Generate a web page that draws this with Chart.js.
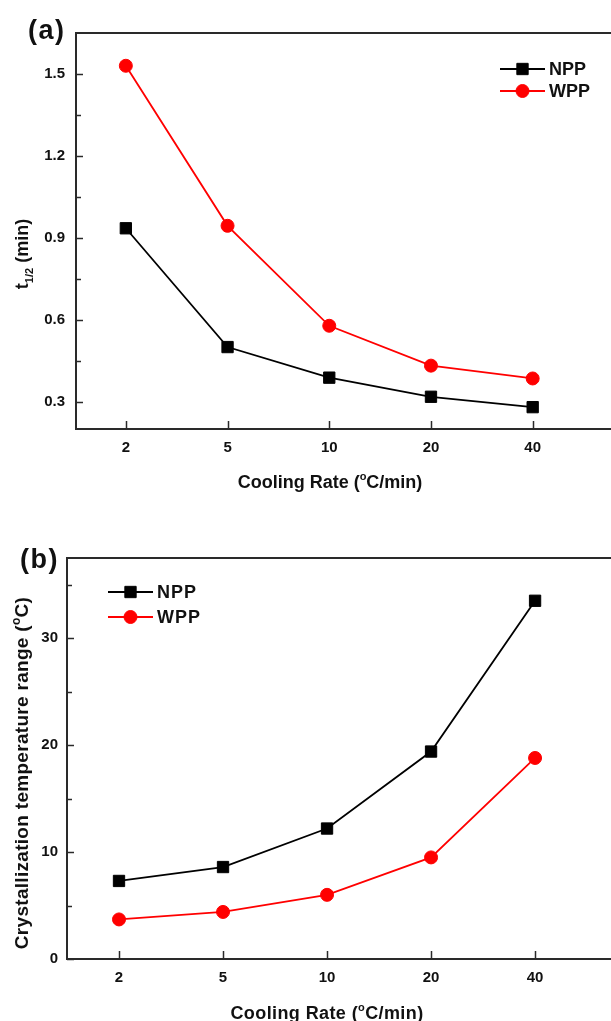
<!DOCTYPE html>
<html>
<head>
<meta charset="utf-8">
<script src="https://cdn.jsdelivr.net/npm/chart.js@4.4.0/dist/chart.umd.min.js"></script>
<style>
  body { margin: 0; background: #fff; overflow: hidden; }
  canvas { display: block; }
</style>
</head>
<body>
<canvas id="chartA" width="611" height="500"></canvas>
<canvas id="chartB" width="611" height="521"></canvas>
<script>
// cooling rates (°C/min), shared by both panels
var coolingRates = ['2', '5', '10', '20', '40'];

// (a) crystallization half-time t1/2, min
var halfTimeNPP = [0.935, 0.50, 0.388, 0.318, 0.28];
var halfTimeWPP = [1.53, 0.944, 0.578, 0.432, 0.385];
var halfTimeTicks = [0.3, 0.6, 0.9, 1.2, 1.5];
var halfTimeMinor = [0.45, 0.75, 1.05, 1.35];

// (b) crystallization temperature range, °C
var rangeNPP = [7.3, 8.6, 12.2, 19.4, 33.5];
var rangeWPP = [3.7, 4.4, 6.0, 9.5, 18.8];
var rangeTicks = [0, 10, 20, 30];
var rangeMinor = [5, 15, 25, 35];

var FONT = '"Liberation Sans", Arial, Helvetica, sans-serif';
var AXIS = '#2a2a2a';

function points(values) {
    return values.map(function (v, i) { return { x: i, y: v }; });
}

function series(label, values, color, style, radius) {
    return {
        label: label,
        data: points(values),
        borderColor: color,
        backgroundColor: color,
        borderWidth: 1.8,
        pointStyle: style,
        pointRadius: radius,
        pointBorderWidth: 1,
        pointBackgroundColor: color,
        pointBorderColor: color,
        tension: 0
    };
}

// draws text runs, some of them as sub/superscript
function richText(ctx, parts, x, y, size, rotate, spacing) {
    ctx.save();
    ctx.translate(x, y);
    if (rotate) ctx.rotate(-Math.PI / 2);
    ctx.textBaseline = 'alphabetic';
    ctx.textAlign = 'left';
    if (spacing) ctx.letterSpacing = spacing;
    var small = Math.round(size * 0.62);
    var total = 0;
    parts.forEach(function (p) {
        ctx.font = 'bold ' + (p.sub || p.sup ? small : size) + 'px ' + FONT;
        p.w = ctx.measureText(p.t).width;
        total += p.w;
    });
    var cx = -total / 2;
    parts.forEach(function (p) {
        ctx.font = 'bold ' + (p.sub || p.sup ? small : size) + 'px ' + FONT;
        var dy = p.sub ? size * 0.3 : (p.sup ? -size * 0.42 : 0);
        ctx.fillText(p.t, cx, dy);
        cx += p.w;
    });
    ctx.restore();
}

// inward tick marks, top frame line, legend, titles and panel letter
var panelDecor = {
    id: 'panelDecor',
    afterDraw: function (chart, args, opts) {
        var ctx = chart.ctx, area = chart.chartArea;
        var xs = chart.scales.x, ys = chart.scales.y;
        ctx.save();
        ctx.strokeStyle = AXIS;
        ctx.lineWidth = 1.5;
        xs.ticks.forEach(function (t) {
            var px = Math.round(xs.getPixelForValue(t.value)) + 0.5;
            ctx.beginPath();
            ctx.moveTo(px, area.bottom);
            ctx.lineTo(px, area.bottom - 8);
            ctx.stroke();
        });
        ys.ticks.forEach(function (t) {
            var py = Math.round(ys.getPixelForValue(t.value)) + 0.5;
            var len = t.label === '' ? 5 : 7;
            ctx.beginPath();
            ctx.moveTo(area.left, py);
            ctx.lineTo(area.left + len, py);
            ctx.stroke();
        });
        ctx.lineWidth = 2;
        ctx.beginPath();
        ctx.moveTo(area.left - 1, area.top);
        ctx.lineTo(area.right, area.top);
        ctx.stroke();

        // legend
        chart.data.datasets.forEach(function (ds, i) {
            var lx = opts.legend[0], ly = opts.legend[1] + i * opts.legend[2];
            ctx.strokeStyle = ds.borderColor;
            ctx.lineWidth = ds.borderWidth;
            ctx.beginPath();
            ctx.moveTo(lx, ly);
            ctx.lineTo(lx + 45, ly);
            ctx.stroke();
            ctx.fillStyle = ds.pointBackgroundColor;
            ctx.strokeStyle = ds.pointBorderColor;
            ctx.lineWidth = ds.pointBorderWidth;
            Chart.helpers.drawPoint(ctx, {
                pointStyle: ds.pointStyle, radius: ds.pointRadius, rotation: 0, borderWidth: 1
            }, lx + 22.5, ly);
            ctx.save();
            ctx.fillStyle = '#111';
            ctx.font = 'bold 18px ' + FONT;
            ctx.letterSpacing = opts.legendSpacing || '0px';
            ctx.textBaseline = 'middle';
            ctx.textAlign = 'left';
            ctx.fillText(ds.label, lx + 49, ly + 1);
            ctx.restore();
        });

        ctx.save();
        ctx.fillStyle = '#111';
        ctx.font = 'bold 27px ' + FONT;
        ctx.letterSpacing = '1.5px';
        ctx.textBaseline = 'alphabetic';
        ctx.textAlign = 'left';
        ctx.fillText(opts.letter, opts.letterPos[0], opts.letterPos[1]);
        ctx.restore();

        ctx.fillStyle = '#111';
        richText(ctx, opts.xTitle, opts.xTitlePos[0], opts.xTitlePos[1], 18, false, opts.xSpacing);
        richText(ctx, opts.yTitle, opts.yTitlePos[0], opts.yTitlePos[1], opts.ySize, true, opts.ySpacing);
        ctx.restore();
    }
};

function makeChart(id, datasets, yMin, yMax, major, minor, fmt, xMin, xMax, leftW, bottomH, topPad, yPad, decor) {
    var ctx = document.getElementById(id).getContext('2d');
    return new Chart(ctx, {
        type: 'line',
        data: { datasets: datasets },
        plugins: [panelDecor],
        options: {
            responsive: false,
            animation: false,
            layout: { autoPadding: false, padding: { top: topPad, left: 0, right: 0, bottom: 0 } },
            plugins: {
                legend: { display: false },
                tooltip: { enabled: false },
                panelDecor: decor
            },
            scales: {
                x: {
                    type: 'linear',
                    min: xMin,
                    max: xMax,
                    grid: { display: false },
                    border: { display: true, color: AXIS, width: 2 },
                    ticks: {
                        autoSkip: false,
                        maxRotation: 0,
                        padding: 2,
                        color: '#111',
                        font: { family: FONT, size: 15, weight: 'bold' },
                        callback: function (v) { return coolingRates[v]; }
                    },
                    afterBuildTicks: function (s) {
                        s.ticks = coolingRates.map(function (c, i) { return { value: i }; });
                    },
                    afterFit: function (s) { s.height = bottomH; }
                },
                y: {
                    min: yMin,
                    max: yMax,
                    grid: { display: false },
                    border: { display: true, color: AXIS, width: 2 },
                    ticks: {
                        autoSkip: false,
                        padding: yPad,
                        color: '#111',
                        font: { family: FONT, size: 15, weight: 'bold' },
                        callback: function (v) { return minor.indexOf(v) >= 0 ? '' : fmt(v); }
                    },
                    afterBuildTicks: function (s) {
                        s.ticks = major.concat(minor).map(function (v) { return { value: v }; });
                    },
                    afterFit: function (s) { s.width = leftW; }
                }
            }
        }
    });
}

makeChart('chartA', [
    series('NPP', halfTimeNPP, '#000000', 'rect', 8),
    series('WPP', halfTimeWPP, '#ff0000', 'circle', 6.5)
], 0.2, 1.65, halfTimeTicks, halfTimeMinor, function (v) { return v.toFixed(1); },
   -0.49, 4.77, 76, 71, 33, 3, {
    legend: [500, 69, 22],
    letter: '(a)', letterPos: [28, 39],
    xTitle: [{ t: 'Cooling Rate (' }, { t: 'o', sup: true }, { t: 'C/min)' }],
    xTitlePos: [330, 488],
    yTitle: [{ t: 't' }, { t: '1/2', sub: true }, { t: ' (min)' }],
    yTitlePos: [28, 254], ySize: 18
});

makeChart('chartB', [
    series('NPP', rangeNPP, '#000000', 'rect', 8),
    series('WPP', rangeWPP, '#ff0000', 'circle', 6.5)
], 0, 37.5, rangeTicks, rangeMinor, function (v) { return String(v); },
   -0.5, 4.73, 67, 62, 58, 1, {
    legend: [108, 92, 25], legendSpacing: '1px',
    letter: '(b)', letterPos: [20, 68],
    xTitle: [{ t: 'Cooling Rate (' }, { t: 'o', sup: true }, { t: 'C/min)' }],
    xTitlePos: [327, 519], xSpacing: '0.4px',
    yTitle: [{ t: 'Crystallization temperature range (' }, { t: 'o', sup: true }, { t: 'C)' }],
    yTitlePos: [28, 273], ySize: 19, ySpacing: '0.3px'
});
</script>
</body>
</html>
